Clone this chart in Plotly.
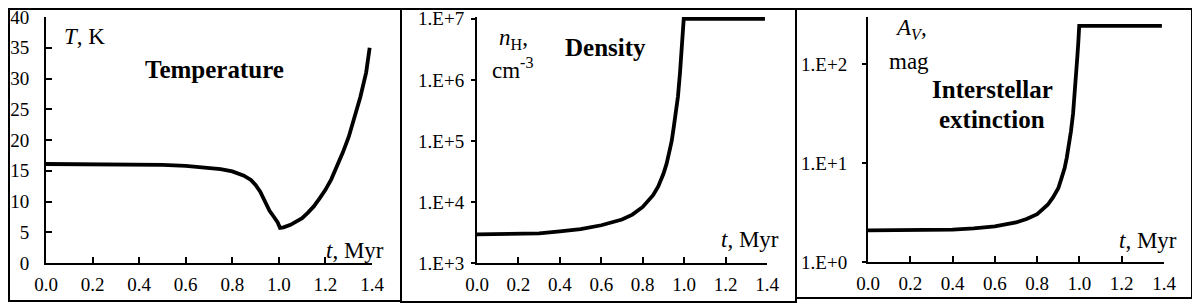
"""Three-panel evolution plot: temperature, density, extinction vs time."""

import plotly.graph_objects as go

# time grid (Myr) and values
t_temp = [0.0, 0.1, 0.2, 0.3, 0.4, 0.5, 0.6, 0.7, 0.75, 0.8, 0.85, 0.88, 0.9,
          0.92, 0.935, 0.945, 0.96, 0.973, 0.985, 0.995, 1.005, 1.02, 1.05,
          1.075, 1.1, 1.125, 1.15, 1.175, 1.2, 1.225, 1.25, 1.275, 1.3,
          1.325, 1.35, 1.375, 1.39]
temperature = [16.1, 16.1, 16.1, 16.0, 16.0, 15.95, 15.8, 15.5, 15.25, 14.9,
               14.2, 13.5, 12.7, 11.6, 10.4, 9.5, 8.5, 7.8, 7.2, 6.6, 5.7,
               5.8, 6.2, 6.7, 7.3, 8.2, 9.2, 10.5, 11.9, 13.6, 15.7, 18.0,
               20.5, 23.5, 27.0, 31.0, 35.0]

t_dens = [0.0, 0.2, 0.3, 0.4, 0.5, 0.6, 0.7, 0.75, 0.8, 0.85, 0.875, 0.9,
          0.915, 0.93, 0.94, 0.95, 0.96, 0.97, 0.98, 0.985, 0.99, 0.995,
          0.998, 1.39]
density = [2950, 2980, 3050, 3300, 3600, 4150, 5150, 6200, 8300, 12900,
           18000, 29000, 42000, 70000, 1.0e5, 1.7e5, 2.8e5, 5.3e5, 1.3e6,
           2.1e6, 4.0e6, 5.7e6, 1.0e7, 1.0e7]

t_ext = [0.0, 0.3, 0.4, 0.5, 0.6, 0.7, 0.75, 0.8, 0.85, 0.875, 0.9, 0.915,
         0.93, 0.94, 0.95, 0.96, 0.97, 0.98, 0.99, 0.995, 0.999, 1.39]
extinction = [2.09, 2.09, 2.12, 2.19, 2.29, 2.51, 2.72, 3.05, 3.79, 4.5,
              5.57, 7.0, 8.9, 11.3, 14.7, 21.0, 31.8, 54.6, 118, 170, 244, 244]

x_ticks = [0.0, 0.2, 0.4, 0.6, 0.8, 1.0, 1.2, 1.4]
dens_ticks = [1e3, 1e4, 1e5, 1e6, 1e7]
dens_labels = ["1.E+3", "1.E+4", "1.E+5", "1.E+6", "1.E+7"]
ext_ticks = [1, 10, 100]
ext_labels = ["1.E+0", "1.E+1", "1.E+2"]

# the page body has an 8px margin, so the figure is laid out in window pixels
# minus that offset
OFF = 8
W, H = 1200 - OFF, 304 - OFF
FONT = "Liberation Serif"
BOLD_FONT = "Times New Roman, Liberation Serif, serif"


def px(x):
    return (x - OFF) / W


def py(y):
    return 1 - (y - OFF) / H


line = dict(color="black", width=3.8)
fig = go.Figure()
fig.add_trace(go.Scatter(x=t_temp, y=temperature, mode="lines", line=line,
                         xaxis="x", yaxis="y"))
fig.add_trace(go.Scatter(x=t_dens, y=density, mode="lines", line=line,
                         xaxis="x2", yaxis="y2"))
fig.add_trace(go.Scatter(x=t_ext, y=extinction, mode="lines", line=line,
                         xaxis="x3", yaxis="y3"))

tickfont = dict(family=FONT, size=19, color="black")
xcommon = dict(range=[0, 1.4], tickvals=x_ticks, tickformat=".1f",
               ticks="inside", ticklen=6, tickwidth=1.5, tickcolor="black",
               showline=True, linecolor="black", linewidth=2,
               showgrid=False, zeroline=False, tickfont=tickfont,
               ticklabelstandoff=3, automargin=False,
               ticklabeloverflow="allow")
ycommon = dict(showline=True, linecolor="black", linewidth=2, showgrid=False,
               zeroline=False, tickfont=tickfont, tickcolor="black",
               tickwidth=1.5, automargin=False, ticklabeloverflow="allow")

ydom = [py(263), py(17)]
fig.update_layout(
    width=W, height=H,
    margin=dict(l=0, r=0, t=0, b=0),
    paper_bgcolor="white", plot_bgcolor="white",
    showlegend=False,
    font=dict(family=FONT, color="black"),
    xaxis=dict(domain=[px(46), px(372)], anchor="y", **xcommon),
    xaxis2=dict(domain=[px(477), px(767)], anchor="y2", **xcommon),
    xaxis3=dict(domain=[px(868), px(1164)], anchor="y3", **xcommon),
    yaxis=dict(domain=ydom, anchor="x", range=[0, 40], dtick=5,
               ticks="inside", ticklen=6, ticklabelstandoff=11, **ycommon),
    yaxis2=dict(domain=ydom, anchor="x2", type="log", range=[3, 7.03],
                tickvals=dens_ticks, ticktext=dens_labels,
                ticks="outside", ticklen=4, ticklabelstandoff=3, **ycommon),
    yaxis3=dict(domain=[py(262), py(17)], anchor="x3", type="log",
                range=[0, 2.477], tickvals=ext_ticks, ticktext=ext_labels,
                ticks="outside", ticklen=4, ticklabelstandoff=11, **ycommon),
)

# panel frames (kept inside the visible figure area)
frames = [(4, 3, 401, 301), (401, 5, 796, 302), (796, 3, 1192, 298)]
for x0, y0, x1, y1 in frames:
    x0, y0 = max(x0, OFF + 1), max(y0, OFF + 1)
    y1 = min(y1, 302)
    fig.add_shape(type="rect", xref="paper", yref="paper",
                  x0=px(x0), x1=px(x1), y0=py(y1), y1=py(y0),
                  line=dict(color="black", width=2))

label = dict(family=FONT, size=23, color="black")
bold = dict(family=BOLD_FONT, size=25, color="black", weight="bold")
notes = [
    (84, 36, "<i>T</i>, K", label),
    (214, 70, "Temperature", bold),
    (355, 250, "<i>t</i>, Myr", label),
    (513, 39, "<i>n</i><sub>H</sub>,", label),
    (513, 68, "cm<sup>-3</sup>", label),
    (605, 48, "Density", bold),
    (750, 239, "<i>t</i>, Myr", label),
    (911, 29, "<i>A</i><sub><i>V</i></sub>,", label),
    (909, 61, "mag", label),
    (992, 90, "Interstellar", bold),
    (992, 119, "extinction", bold),
    (1148, 240, "<i>t</i>, Myr", label),
]
for x, y, text, font in notes:
    fig.add_annotation(x=px(x), y=py(y), xref="paper", yref="paper",
                       text=text, showarrow=False, font=font,
                       xanchor="center", yanchor="middle")

fig.write_html("out.html")
